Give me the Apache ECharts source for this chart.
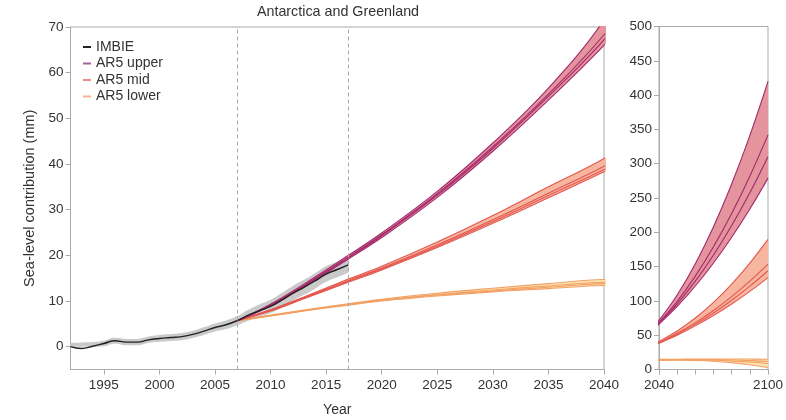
<!DOCTYPE html>
<html>
<head>
<meta charset="utf-8">
<script src="https://cdn.jsdelivr.net/npm/echarts@6/dist/echarts.min.js"></script>
<style>html,body{margin:0;padding:0;background:#fff}#c{width:786px;height:420px}</style>
</head>
<body>
<div id="c"></div>
<script>
// ---- data ----
const imbieYears = [1992,1993,1994,1995,1996,1997,1998,1999,2000,2001,2002,2003,2004,2005,2006,2007,2008,2009,2010,2011,2012,2013,2014,2015,2016,2017];
const imbie      = [0.0,-0.4,0.1,0.7,1.3,1.0,1.0,1.5,1.8,2.0,2.2,2.7,3.4,4.2,4.8,5.7,6.9,7.9,8.8,10.2,11.7,13.0,14.4,15.9,16.9,17.9];
const imbieErr   = [0.4,0.45,0.5,0.6,0.65,0.7,0.7,0.7,0.75,0.75,0.8,0.8,0.85,0.9,0.95,1.0,1.2,1.35,1.45,1.55,1.6,1.65,1.7,1.7,1.7,1.7];

const years  = [2007,2010,2013,2017,2020,2025,2030,2035,2040,2050,2060,2070,2080,2090,2100];
const upper1 = [5.7,9.3,13.7,20.0,24.9,34.0,44.6,56.6,71.5,108.7,154.2,208.1,270.4,341.0,420.0];
const upper2 = [5.7,9.1,13.4,19.6,24.5,33.5,43.8,55.3,68.3,99.2,136.1,178.8,227.3,281.8,342.0];
const upper3 = [5.7,9.0,13.3,19.5,24.3,33.2,43.4,54.8,67.2,95.6,128.8,166.9,209.8,257.5,310.0];
const upper4 = [5.7,8.9,13.1,19.2,23.9,32.7,42.8,54.0,66.0,91.9,121.7,155.3,192.7,234.0,279.0];
const mid1   = [5.7,8.1,10.9,14.8,17.6,22.9,28.7,35.0,41.2,56.2,75.0,97.8,124.6,155.2,189.7];
const mid2   = [5.7,8.0,10.7,14.5,17.2,22.3,27.8,33.6,39.5,52.7,68.2,86.0,106.2,128.8,153.7];
const mid3   = [5.7,7.9,10.6,14.3,17.0,22.0,27.4,33.1,38.8,51.3,65.8,82.4,100.9,121.5,144.0];
const mid4   = [5.7,7.8,10.5,14.1,16.8,21.7,27.0,32.6,38.3,50.1,63.6,78.7,95.5,113.9,134.0];
const lower1 = [5.7,6.9,8.0,9.4,10.4,11.7,12.8,13.8,14.7,15.0,15.2,15.3,15.3,15.2,15.0];
const lower2 = [5.7,6.8,7.9,9.3,10.2,11.4,12.4,13.3,14.1,14.5,14.6,14.4,13.8,12.9,11.8];
const lower3 = [5.7,6.8,7.9,9.2,10.1,11.3,12.2,13.0,13.8,14.2,14.1,13.5,12.5,10.9,8.8];
const lower4 = [5.7,6.7,7.8,9.1,10.0,11.1,12.0,12.7,13.4,13.6,13.2,12.0,10.0,7.0,3.0];

const xTicksLeft  = [1995,2000,2005,2010,2015,2020,2025,2030,2035,2040];
const yTicksLeft  = [0,10,20,30,40,50,60,70];
const legendNames = ['IMBIE','AR5 upper','AR5 mid','AR5 lower'];

// ---- styling ----
const FONT = "'Liberation Sans', Arial, sans-serif";
const AX = '#aaaaaa';
const TXT = '#333333';
const FS = 13.5;
const groups = [
  {name:'lower', lines:[lower1,lower2,lower3,lower4], fill:'#fde3b4', line:'#f3a064'},
  {name:'mid',   lines:[mid1,mid2,mid3,mid4],         fill:'#f6b6a0', line:'#e4574f'},
  {name:'upper', lines:[upper1,upper2,upper3,upper4], fill:'#e3949d', line:'#a3286b'}
];
const legendColors = ['#222222','#a8649a','#ec8a8e','#f6b48e'];

const zip = (xs, ys) => xs.map((x,i)=>[x, ys[i]]);
// value-first items (so the stacked dimension is the value), encoded back to x/y
const zipV = (xs, ys) => xs.map((x,i)=>[ys[i], x]);
const ENC = {x:1, y:0};

const series = [];
// IMBIE uncertainty band
const imLow = imbie.map((v,i)=>v-imbieErr[i]);
const imDiff = imbieErr.map(e=>2*e);
series.push({type:'line', xAxisIndex:0, yAxisIndex:0, stack:'imb', data:zipV(imbieYears, imLow), encode:ENC,
  symbol:'none', smooth:true, lineStyle:{opacity:0}, silent:true, z:1});
series.push({type:'line', xAxisIndex:0, yAxisIndex:0, stack:'imb', data:zipV(imbieYears, imDiff), encode:ENC,
  symbol:'none', smooth:true, lineStyle:{opacity:0}, areaStyle:{color:'#cacaca', opacity:1}, silent:true, z:1});

[0,1].forEach(gi=>{
  groups.forEach(g=>{
    const lo = g.lines[3], hi = g.lines[0];
    series.push({type:'line', xAxisIndex:gi, yAxisIndex:gi, stack:g.name+gi, data:zipV(years, lo), encode:ENC,
      symbol:'none', smooth:0.4, lineStyle:{opacity:0}, silent:true, z:2});
    series.push({type:'line', xAxisIndex:gi, yAxisIndex:gi, stack:g.name+gi, data:zipV(years, hi.map((v,i)=>v-lo[i])), encode:ENC,
      symbol:'none', smooth:0.4, lineStyle:{opacity:0}, areaStyle:{color:g.fill, opacity:1}, silent:true, z:2});
  });
  groups.forEach(g=>{
    g.lines.forEach(arr=>{
      series.push({type:'line', xAxisIndex:gi, yAxisIndex:gi, data:zip(years, arr),
        symbol:'none', smooth:0.4, lineStyle:{color:g.line, width:1.1}, silent:true, z:3});
    });
  });
});

// IMBIE line with dashed reference lines
series.push({type:'line', name:'imbieLine', xAxisIndex:0, yAxisIndex:0, data:zip(imbieYears, imbie),
  symbol:'none', smooth:true, lineStyle:{color:'#222', width:1.4}, z:4, silent:true,
  markLine:{silent:true, symbol:['none','none'], label:{show:false},
    lineStyle:{type:[4,3], color:'#aaaaaa', width:1},
    data:[{xAxis:2007},{xAxis:2017}]}
});

// legend-only series
legendNames.forEach((n,i)=>{
  series.push({type:'line', name:n, xAxisIndex:0, yAxisIndex:0, data:[], symbol:'none',
    itemStyle:{color:legendColors[i]}, lineStyle:{color:legendColors[i]}});
});

const axisCommon = {
  axisLine:{show:true, onZero:false, lineStyle:{color:AX, width:1}},
  axisTick:{show:true, length:5, lineStyle:{color:AX}},
  splitLine:{show:false}
};
const plain = v => String(v);

const option = {
  animation:false,
  backgroundColor:'#ffffff',
  textStyle:{fontFamily:FONT},
  grid:[
    {left:70.5, right:182, top:27, bottom:50.5, show:true, borderColor:AX, borderWidth:1, containLabel:false, outerBoundsMode:'none'},
    {left:659, right:18, top:26.5, bottom:50.5, show:true, borderColor:AX, borderWidth:1, containLabel:false, outerBoundsMode:'none'}
  ],
  legend:{
    data:legendNames, orient:'vertical', left:78, top:35, icon:'rect', itemWidth:8, itemHeight:2,
    itemGap:2.5, textStyle:{color:TXT, fontSize:14, fontFamily:FONT}, selectedMode:false
  },
  graphic:[{type:'text', x:338, y:12, style:{text:'Antarctica and Greenland', fill:TXT, font:"14.3px "+FONT, textAlign:'center', textVerticalAlign:'middle'}}],
  xAxis:[
    Object.assign({}, axisCommon, {type:'value', gridIndex:0, min:1992, max:2040,
      axisTick:{show:true, length:5, lineStyle:{color:AX}, customValues:xTicksLeft},
      axisLabel:{customValues:xTicksLeft, formatter:plain, color:TXT, fontSize:FS, margin:9, fontFamily:FONT},
      name:'Year', nameLocation:'middle', nameGap:34, nameTextStyle:{color:TXT, fontSize:14, fontFamily:FONT}}),
    Object.assign({}, axisCommon, {type:'value', gridIndex:1, min:2040, max:2100, interval:10,
      axisLabel:{color:TXT, fontSize:FS, margin:9, fontFamily:FONT, showMinLabel:true, showMaxLabel:true,
        formatter:v=>(v===2040||v===2100)?String(v):''}})
  ],
  yAxis:[
    Object.assign({}, axisCommon, {type:'value', gridIndex:0, min:-5, max:70,
      axisTick:{show:true, length:5, lineStyle:{color:AX}, customValues:yTicksLeft},
      axisLabel:{customValues:yTicksLeft, formatter:plain, color:TXT, fontSize:FS, margin:7, fontFamily:FONT},
      name:'Sea-level contribution (mm)', nameLocation:'middle', nameGap:31, nameTextStyle:{color:TXT, fontSize:14.5, fontFamily:FONT}}),
    Object.assign({}, axisCommon, {type:'value', gridIndex:1, min:0, max:500, interval:50,
      axisLabel:{color:TXT, fontSize:FS, margin:7, fontFamily:FONT, formatter:plain}})
  ],
  series:series
};

const chart = echarts.init(document.getElementById('c'), null, {renderer:'canvas'});
chart.setOption(option);
</script>
</body>
</html>
